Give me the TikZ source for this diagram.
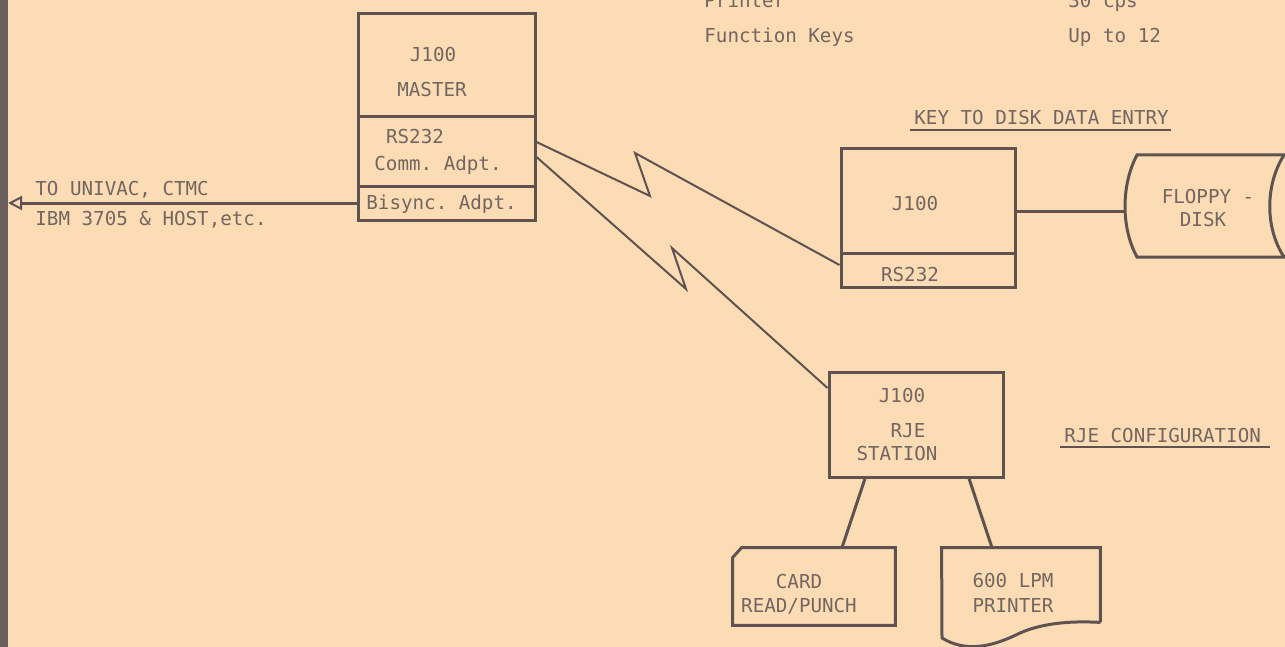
\documentclass[tikz,border=0pt]{standalone}
\usepackage{fontspec}
\setmonofont{DejaVu Sans Mono}
\usetikzlibrary{arrows.meta}

\definecolor{paper}{HTML}{FCDCB5}
\definecolor{ink}{HTML}{5F5352}
\definecolor{type}{HTML}{736660}
\definecolor{edge}{HTML}{6A5E5E}

\begin{document}
\begin{tikzpicture}[x=0.5pt, y=-0.5pt,
  every node/.style={font=\ttfamily\fontsize{9.6}{11}\selectfont, text=type, inner sep=0pt},
  box/.style={draw=ink, line width=1.5pt},
  wire/.style={draw=ink, line width=1.5pt},
  bolt/.style={draw=ink, line width=1pt}]
  % paper and binding edge
  \fill[paper] (0,0) rectangle (1285,647);
  \fill[edge] (0,0) rectangle (8,647);
  \useasboundingbox (0,0) rectangle (1285,647);

  % spec table, cut at the top
  \node (prt)  at (704,8)   [anchor=base west] {Printer};
  \node (cps)  at (1068,8)  [anchor=base west] {30 cps};
  \node (fkey) at (704,43)  [anchor=base west] {Function Keys};
  \node (fnum) at (1068,43) [anchor=base west] {Up to 12};

  % master unit
  \node (mtop)  at (446.5,65.5)  [box, minimum width=88.5pt, minimum height=51.5pt] {};
  \node (mcomm) at (446.5,151.5) [box, minimum width=88.5pt, minimum height=34.5pt] {};
  \node (mbsc)  at (446.5,203)   [box, minimum width=88.5pt, minimum height=17pt] {};
  \node (mj) at (433,62)  [anchor=base] {J100};
  \node (mm) at (432,97)  [anchor=base] {MASTER};
  \node (mr) at (415,144) [anchor=base] {RS232};
  \node (ma) at (438,170) [anchor=base] {Comm. Adpt.};
  \node (mb) at (366,209) [anchor=base west] {Bisync. Adpt.};

  % host link
  \coordinate (host) at (8,203);
  \draw[wire, -{Triangle[open, length=7pt, width=7pt, line width=1pt]}] (mbsc.west) -- (host);
  \node (univ) at (35,195) [anchor=base west] {TO UNIVAC, CTMC};
  \node (ibm)  at (35,225) [anchor=base west] {IBM 3705 \& HOST,etc.};

  % key to disk
  \node (ktitle) at (914,125) [anchor=base west] {KEY TO DISK DATA ENTRY};
  \draw[ink, line width=1pt] ([xshift=-2pt, yshift=-2.5pt]ktitle.base west) -- ([xshift=1pt, yshift=-2.5pt]ktitle.base east);
  \node (ktop)  at (928,201) [box, minimum width=87pt, minimum height=52pt] {};
  \node (kport) at (928,270) [box, minimum width=87pt, minimum height=17pt] {};
  \node (kj) at (915,210) [anchor=base] {J100};
  \node (kr) at (910,281) [anchor=base] {RS232};

  % floppy disk
  \coordinate (disk) at (1125,211);
  \draw[wire] (1300,155) -- (1137,155) .. controls (1121,185) and (1121,228) .. (1137,257) -- (1300,257);
  \draw[wire] (1284,155) .. controls (1265,185) and (1265,228) .. (1284,257);
  \node (fl1) at (1208,203) [anchor=base] {FLOPPY -};
  \node (fl2) at (1203,227) [anchor=base] {DISK};
  \draw[wire] (ktop.east |- disk) -- (disk);

  % rje station
  \node (rje) at (916,424.5) [box, minimum width=87pt, minimum height=52.5pt] {};
  \node (rj) at (902,402) [anchor=base] {J100};
  \node (rr) at (908,437) [anchor=base] {RJE};
  \node (rs) at (897,460) [anchor=base] {STATION};
  \node (rtitle) at (1064,442) [anchor=base west] {RJE CONFIGURATION};
  \draw[ink, line width=1pt] ([xshift=-2pt, yshift=-2.5pt]rtitle.base west) -- ([xshift=4.5pt, yshift=-2.5pt]rtitle.base east);

  % phone links
  \draw[bolt] ([yshift=4.75pt]mcomm.east) -- (650,196) -- (635,153) -- ([yshift=2.5pt]kport.west);
  \draw[bolt] ([yshift=-2.75pt]mcomm.east) -- (686,289) -- (672,248) -- ([yshift=18.25pt]rje.west);

  % card reader
  \node (card) at (814,586.5) [minimum width=81pt, minimum height=38.5pt] {};
  \draw[box] ([yshift=-5pt]card.north west) -- ([xshift=4.5pt]card.north west) -- (card.north east)
    -- (card.south east) -- (card.south west) -- cycle;
  \node (c1) at (799,588) [anchor=base] {CARD};
  \node (c2) at (799,612) [anchor=base] {READ/PUNCH};

  % line printer
  \node (prn) at (1021,585) [minimum width=79pt, minimum height=37pt] {};
  \draw[box] (prn.south east) -- (prn.north east) -- (prn.north west) -- (942,638)
    .. controls (965,652) and (990,648) .. (1020,633) .. controls (1045,622) and (1075,621) .. (prn.south east);
  \node (p1) at (1013,587) [anchor=base] {600 LPM};
  \node (p2) at (1013,612) [anchor=base] {PRINTER};

  \draw[wire] ([xshift=-25.5pt]rje.south) -- ([xshift=14pt]card.north);
  \draw[wire] ([xshift=26.5pt]rje.south) -- ([xshift=-14.5pt]prn.north);
\end{tikzpicture}
\end{document}
